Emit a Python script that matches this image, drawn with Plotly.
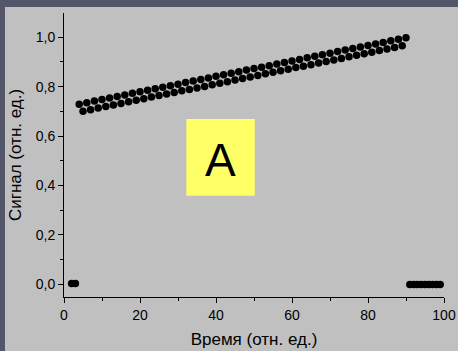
import plotly.graph_objects as go

# Time (rel. units)
time = [2, 3,
        4, 5, 6, 7, 8, 9, 10, 11, 12, 13, 14, 15, 16, 17, 18, 19, 20, 21,
        22, 23, 24, 25, 26, 27, 28, 29, 30, 31, 32, 33, 34, 35, 36, 37, 38, 39,
        40, 41, 42, 43, 44, 45, 46, 47, 48, 49, 50, 51, 52, 53, 54, 55, 56, 57,
        58, 59, 60, 61, 62, 63, 64, 65, 66, 67, 68, 69, 70, 71, 72, 73, 74, 75,
        76, 77, 78, 79, 80, 81, 82, 83, 84, 85, 86, 87, 88, 89, 90,
        91, 92, 93, 94, 95, 96, 97, 98, 99]

# Signal (rel. units)
signal = [0.004, 0.004,
          0.729, 0.701, 0.735, 0.707, 0.742, 0.714, 0.748, 0.720, 0.754, 0.726,
          0.760, 0.732, 0.766, 0.739, 0.773, 0.745, 0.779, 0.751, 0.785, 0.758,
          0.792, 0.764, 0.798, 0.770, 0.804, 0.776, 0.810, 0.783, 0.817, 0.789,
          0.823, 0.795, 0.829, 0.801, 0.835, 0.808, 0.842, 0.814, 0.848, 0.820,
          0.854, 0.827, 0.860, 0.833, 0.867, 0.839, 0.873, 0.845, 0.879, 0.852,
          0.885, 0.858, 0.892, 0.864, 0.898, 0.870, 0.904, 0.877, 0.910, 0.883,
          0.917, 0.889, 0.923, 0.896, 0.929, 0.902, 0.935, 0.908, 0.942, 0.914,
          0.948, 0.921, 0.954, 0.927, 0.960, 0.933, 0.967, 0.939, 0.973, 0.946,
          0.979, 0.952, 0.986, 0.958, 0.992, 0.965, 0.998,
          0.0, 0.0, 0.0, 0.0, 0.0, 0.0, 0.0, 0.0, 0.0]

x_title = "Время (отн. ед.)"
y_title = "Сигнал (отн. ед.)"
box_label = "A"

FONT = "Liberation Sans, Arial, sans-serif"
BG = "#c0c0c0"
BORDER = "#535769"

fig = go.Figure()
fig.add_trace(go.Scatter(
    x=time, y=signal, mode="markers",
    marker=dict(size=7.5, color="black", line=dict(width=0)),
    showlegend=False, cliponaxis=False,
))

axis_common = dict(
    showline=True, linecolor="black", linewidth=1,
    ticks="outside", ticklen=5, tickwidth=1, tickcolor="black",
    showgrid=False, zeroline=False, automargin=False,
    tickfont=dict(family=FONT, size=14, color="black"),
)

fig.update_layout(
    width=458, height=351,
    margin=dict(l=64, r=14, t=13, b=54),
    paper_bgcolor=BG, plot_bgcolor=BG,
    separators=", ",
    font=dict(family=FONT, color="black"),
    xaxis=dict(range=[0, 100], tick0=0, dtick=20,
               minor=dict(dtick=10, ticklen=3, ticks="outside", tickcolor="black"),
               title=dict(text=x_title, font=dict(family=FONT, size=17), standoff=11),
               **axis_common),
    yaxis=dict(range=[-0.051, 1.098], tick0=0, dtick=0.2, tickformat=".1f",
               minor=dict(dtick=0.1, ticklen=3, ticks="outside", tickcolor="black"),
               title=dict(text=y_title, font=dict(family=FONT, size=17), standoff=9),
               **axis_common),
    shapes=[
        # dark frame strips (top and left)
        dict(type="rect", xref="paper", yref="paper", x0=-0.2, x1=1.1,
             y0=(297 - 7) / 284, y1=1.1, fillcolor=BORDER, line=dict(width=0), layer="below"),
        dict(type="rect", xref="paper", yref="paper", x0=-0.2, x1=(5 - 64) / 380,
             y0=-0.3, y1=1.1, fillcolor=BORDER, line=dict(width=0), layer="below"),
        # yellow label box
        dict(type="rect", xref="x", yref="y", x0=32.2, x1=50.2, y0=0.359, y1=0.669,
             fillcolor="#ffff66", line=dict(width=0), layer="above"),
    ],
    annotations=[
        dict(x=41.2, y=0.505, xref="x", yref="y", text=box_label, showarrow=False,
             font=dict(family=FONT, size=46, color="black")),
    ],
)

fig.write_html(
    "out.html",
    config={"displayModeBar": False},
    post_script="document.body.style.margin='0';document.body.style.overflow='hidden';",
)
